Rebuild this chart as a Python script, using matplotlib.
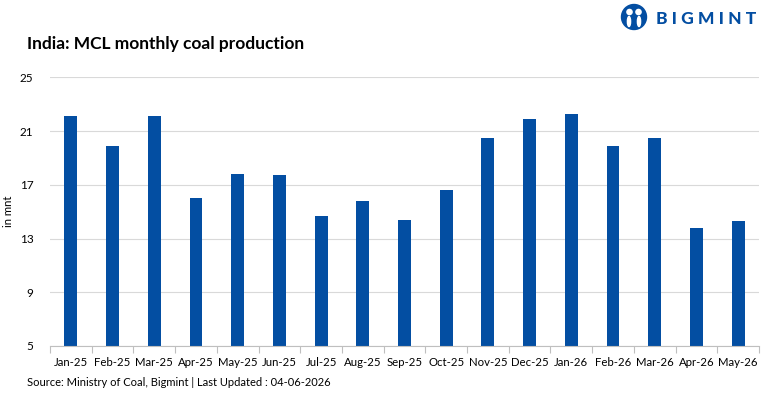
import matplotlib.pyplot as plt
from matplotlib.patches import Circle, Ellipse
import numpy as np

# Datos (en mnt)
meses = ['Jan-25', 'Feb-25', 'Mar-25', 'Apr-25', 'May-25', 'Jun-25', 'Jul-25', 'Aug-25',
         'Sep-25', 'Oct-25', 'Nov-25', 'Dec-25', 'Jan-26', 'Feb-26', 'Mar-26', 'Apr-26', 'May-26']
produccion = [22.1, 19.9, 22.1, 16.0, 17.8, 17.7, 14.7, 15.8,
              14.4, 16.6, 20.5, 21.9, 22.3, 19.9, 20.5, 13.8, 14.3]
yticks = [5, 9, 13, 17, 21, 25]

plt.rcParams['font.family'] = ['Lato', 'DejaVu Sans']
azul = '#034EA2'

fig = plt.figure(figsize=(7.81, 4.0), dpi=100)
ax = fig.add_axes([50/781, 1-346/400, 709/781, (346-77.3)/400])

x = np.arange(len(meses))
ax.bar(x, produccion, width=0.31, color=azul, zorder=3)

ax.set_ylim(5, 25)
ax.set_yticks(yticks)
ax.set_xlim(-0.5, len(meses)-0.5)
ax.set_xticks(x)
ax.set_xticklabels(meses, fontsize=8.2)
ax.set_xticks(np.arange(-0.5, len(meses)), minor=True)
ax.tick_params(axis='x', which='major', length=0, pad=8)
ax.tick_params(axis='x', which='minor', length=5, color='#bfbfbf', width=0.8)
ax.tick_params(axis='y', length=0, labelsize=8.5, pad=12)
ax.grid(axis='y', color='#d9d9d9', linewidth=0.8, zorder=0)
for s in ['top', 'right', 'left']:
    ax.spines[s].set_visible(False)
ax.spines['bottom'].set_color('#bfbfbf')
ax.spines['bottom'].set_zorder(4)
ax.set_ylabel('in mnt', fontsize=8.2)
ax.yaxis.set_label_coords(-36/709, 0.5)

# Título y fuente
fig.text(27/781, 1-44/400, 'India: MCL monthly coal production', fontsize=12.5,
         fontweight='bold', va='center', ha='left')
fig.text(27/781, 1-382/400, 'Source: Ministry of Coal, Bigmint | Last Updated : 04-06-2026',
         fontsize=8, va='center', ha='left')

# Logo
fig.text(656/781, 1-19.5/400, 'B I G M I N T', fontsize=12.5, fontweight='black',
         color=azul, va='center', ha='left')
logo = fig.add_axes([619/781, 1-31/400, 30/781, 28/400])
logo.set_xlim(0, 30)
logo.set_ylim(0, 28)
logo.set_aspect('equal')
logo.axis('off')
logo.add_patch(Circle((15, 14), 12.5, color=azul))
logo.add_patch(Circle((10.5, 19), 2.6, color='white'))
logo.add_patch(Circle((19.5, 19), 2.6, color='white'))
logo.add_patch(Ellipse((10, 9.5), 3.2, 10, color='white'))
logo.add_patch(Ellipse((20, 9.5), 3.2, 10, color='white'))

fig.savefig('out.png', dpi=100)
